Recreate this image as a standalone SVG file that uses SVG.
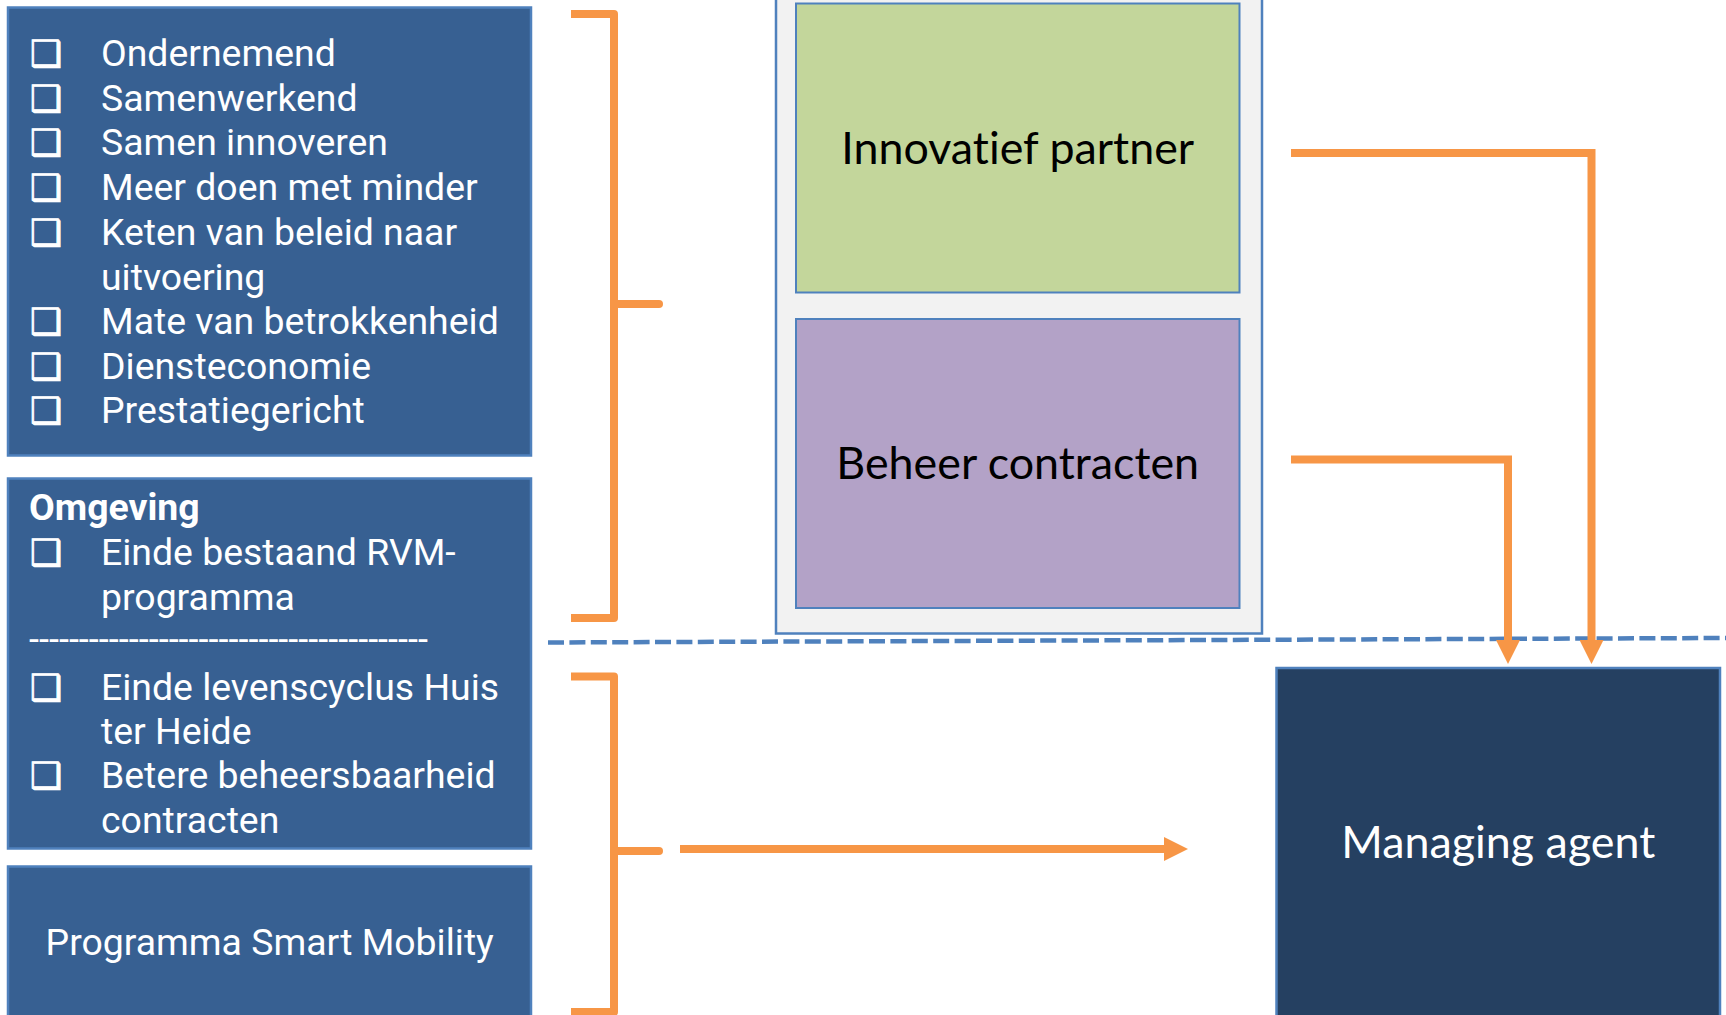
<svg xmlns="http://www.w3.org/2000/svg" width="1726" height="1015" viewBox="0 0 1726 1015">
<defs>
<style>
.box{fill:#376092;stroke:#4f81bd;stroke-width:2.5}
.t{font-family:Roboto,"Liberation Sans",sans-serif;font-size:37.4px;fill:#ffffff}
.b{font-family:"DejaVu Sans",sans-serif;font-size:36px;fill:#ffffff;stroke:#ffffff;stroke-width:0.8}
.c{font-family:Lato,"Liberation Sans",sans-serif;font-size:44.8px;text-anchor:middle;font-variant-ligatures:none;font-feature-settings:"liga" 0}
.or{fill:none;stroke:#f79646;stroke-width:8}
</style>
<marker id="ah" viewBox="0 0 24 24" markerWidth="24" markerHeight="24" markerUnits="userSpaceOnUse" refX="0" refY="12" orient="auto">
<path d="M0,0 L24,12 L0,24 z" fill="#f79646"/>
</marker>
</defs>
<rect width="1726" height="1015" fill="#ffffff"/>

<g id="kenmerken">
<rect class="box" x="8" y="7.5" width="523" height="448"/>
<text class="b" x="30" y="66">❑</text><text class="t" x="101" y="66">Ondernemend</text>
<text class="b" x="30" y="111">❑</text><text class="t" x="101" y="111">Samenwerkend</text>
<text class="b" x="30" y="155">❑</text><text class="t" x="101" y="155">Samen innoveren</text>
<text class="b" x="30" y="200">❑</text><text class="t" x="101" y="200">Meer doen met minder</text>
<text class="b" x="30" y="245">❑</text><text class="t" x="101" y="245">Keten van beleid naar</text>
<text class="t" x="101" y="290">uitvoering</text>
<text class="b" x="30" y="334">❑</text><text class="t" x="101" y="334">Mate van betrokkenheid</text>
<text class="b" x="30" y="379">❑</text><text class="t" x="101" y="379">Diensteconomie</text>
<text class="b" x="30" y="423">❑</text><text class="t" x="101" y="423">Prestatiegericht</text>
</g>

<g id="omgeving">
<rect class="box" x="8" y="478.5" width="523" height="370"/>
<text class="t" x="29" y="520" font-weight="bold">Omgeving</text>
<text class="b" x="30" y="564.5">❑</text><text class="t" x="101" y="564.5">Einde bestaand RVM-</text>
<text class="t" x="101" y="609.5">programma</text>
<text class="t" x="29" y="652" textLength="399" lengthAdjust="spacingAndGlyphs">----------------------------------------</text>
<text class="b" x="30" y="699.5">❑</text><text class="t" x="101" y="699.5">Einde levenscyclus Huis</text>
<text class="t" x="101" y="744">ter Heide</text>
<text class="b" x="30" y="788">❑</text><text class="t" x="101" y="788">Betere beheersbaarheid</text>
<text class="t" x="101" y="833">contracten</text>
</g>

<g id="smart-mobility">
<rect class="box" x="8" y="866.5" width="523" height="170"/>
<text class="t" x="269.7" y="955" text-anchor="middle">Programma Smart Mobility</text>
</g>

<g id="container">
<rect x="776" y="-10" width="486" height="643.5" fill="#f2f2f2" stroke="#4f81bd" stroke-width="2.5"/>
</g>

<g id="innovatief-partner">
<rect x="796" y="3.5" width="443.5" height="289" fill="#c3d69b" stroke="#4f81bd" stroke-width="2"/>
<text class="c" x="1017.7" y="164" fill="#000000">Innovatief partner</text>
</g>

<g id="beheer-contracten">
<rect x="796" y="319" width="443.5" height="289" fill="#b3a2c7" stroke="#4f81bd" stroke-width="2"/>
<text class="c" x="1017.7" y="478.5" fill="#000000">Beheer contracten</text>
</g>

<g id="managing-agent">
<rect x="1276.5" y="668" width="443.5" height="400" fill="#254061" stroke="#4f81bd" stroke-width="2.5"/>
<text class="c" x="1498.3" y="858" fill="#ffffff">Managing agent</text>
</g>

<g id="connectors">
<path d="M548,642.5 L1726,638" fill="none" stroke="#4f81bd" stroke-width="4.5" stroke-dasharray="16 5.4"/>
<path class="or" d="M571,14 H614 V618 H571" stroke-linejoin="round"/>
<path class="or" d="M614,304 H659" stroke-linecap="round"/>
<path class="or" d="M571,676.5 H614 V1012 H571" stroke-linejoin="round"/>
<path class="or" d="M614,851 H659" stroke-linecap="round"/>
<path class="or" d="M680,849 H1164" marker-end="url(#ah)"/>
<path class="or" d="M1291,153 H1591.5 V640" marker-end="url(#ah)"/>
<path class="or" d="M1291,459.5 H1508 V640" marker-end="url(#ah)"/>
</g>
</svg>
